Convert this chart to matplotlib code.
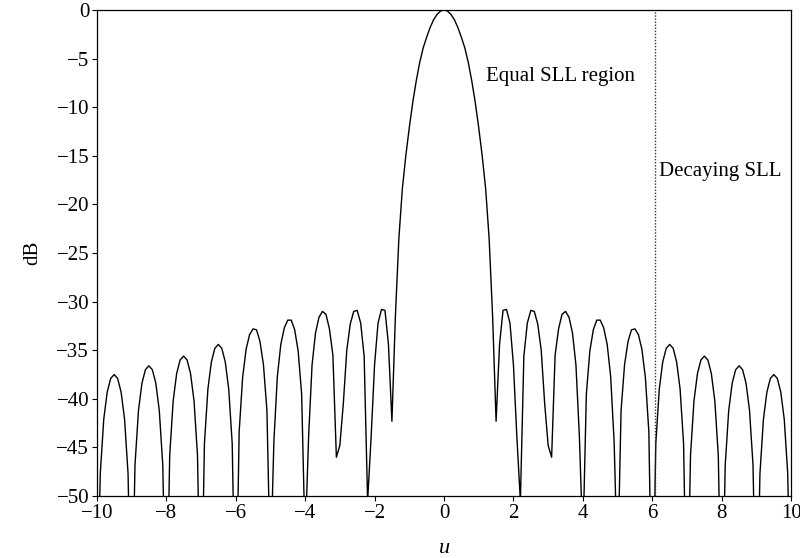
import numpy as np
import matplotlib
matplotlib.use("Agg")
import matplotlib.pyplot as plt

plt.rcParams['font.family'] = ['Liberation Serif', 'DejaVu Serif']

# sample positions (u) and pattern level (dB)
u_vals = [round(-10.0 + 0.1 * k, 1) for k in range(201)]

db_left = [
    -65.0, -47.7, -42.1, -39.3, -37.9, -37.5, -37.9, -39.3, -42.1, -47.7,
    -65.0, -46.8, -41.2, -38.4, -37.0, -36.6, -37.0, -38.4, -41.2, -46.8,
    -65.0, -45.8, -40.2, -37.4, -36.0, -35.6, -36.0, -37.4, -40.2, -45.8,
    -65.0, -44.6, -39.0, -36.2, -34.8, -34.4, -34.8, -36.2, -39.0, -44.6,
    -65.0, -43.4, -37.8, -34.9, -33.4, -32.8, -32.9, -34.1, -36.5, -41.2,
    -58.0, -44.4, -37.7, -34.4, -32.7, -31.9, -31.9, -32.9, -35.1, -39.5,
    -55.0, -43.9, -36.5, -33.2, -31.6, -31.0, -31.3, -32.8, -35.5, -46.0,
    -44.8, -40.5, -35.0, -32.3, -31.0, -30.9, -32.2, -35.6, -50.5, -44.0,
    -36.5, -32.2, -30.8, -30.9, -34.4, -42.3, -31.5, -23.5, -18.4, -15.0,
    -12.1, -9.5, -7.3, -5.4, -3.9, -2.8, -1.8, -1.0, -0.45, -0.1,
]
db_center = [0.0]
db_right = [
    -0.1, -0.45, -1.0, -1.8, -2.8, -3.9, -5.4, -7.3, -9.5, -12.1,
    -15.0, -18.4, -23.5, -31.5, -42.3, -34.4, -30.9, -30.8, -32.2, -36.5,
    -44.0, -50.5, -35.6, -32.2, -30.9, -31.0, -32.3, -35.0, -40.5, -44.8,
    -46.0, -35.5, -32.8, -31.3, -31.0, -31.6, -33.2, -36.5, -43.9, -55.0,
    -39.5, -35.1, -32.9, -31.9, -31.9, -32.7, -34.4, -37.7, -44.4, -58.0,
    -41.2, -36.5, -34.1, -32.9, -32.8, -33.4, -34.9, -37.8, -43.4, -65.0,
    -44.6, -39.0, -36.2, -34.8, -34.4, -34.8, -36.2, -39.0, -44.6, -65.0,
    -45.8, -40.2, -37.4, -36.0, -35.6, -36.0, -37.4, -40.2, -45.8, -65.0,
    -46.8, -41.2, -38.4, -37.0, -36.6, -37.0, -38.4, -41.2, -46.8, -65.0,
    -47.7, -42.1, -39.3, -37.9, -37.5, -37.9, -39.3, -42.1, -47.7, -65.0,
]
db_vals = db_left + db_center + db_right

region_boundary_u = 6.07
x_ticks = [-10, -8, -6, -4, -2, 0, 2, 4, 6, 8, 10]
y_ticks = [0, -5, -10, -15, -20, -25, -30, -35, -40, -45, -50]
label_equal = "Equal SLL region"
label_decay = "Decaying SLL"

fig = plt.figure(figsize=(8.0, 5.58), dpi=100)
ax = fig.add_axes([0.121, 0.111, 0.868, 0.871])

ax.plot(u_vals, db_vals, color='black', linewidth=1.0)
ax.axvline(region_boundary_u, color='#333333', linestyle=(0, (1, 1.2)), linewidth=1.0)

ax.set_xlim(-10, 10)
ax.set_ylim(-50, 0)
ax.set_xticks(x_ticks)
ax.set_yticks(y_ticks)
ax.tick_params(direction='out', length=3.5, width=0.8, labelsize=15, pad=2)
for s in ax.spines.values():
    s.set_linewidth(0.9)

ax.text(1.22, -6.8, label_equal, fontsize=15, va='center', ha='left')
ax.text(6.2, -16.6, label_decay, fontsize=15, va='center', ha='left')

ax.set_xlabel('u', fontsize=16, style='italic', labelpad=12)
ax.set_ylabel('dB', fontsize=15, labelpad=10)

fig.savefig('out.png', dpi=100)
